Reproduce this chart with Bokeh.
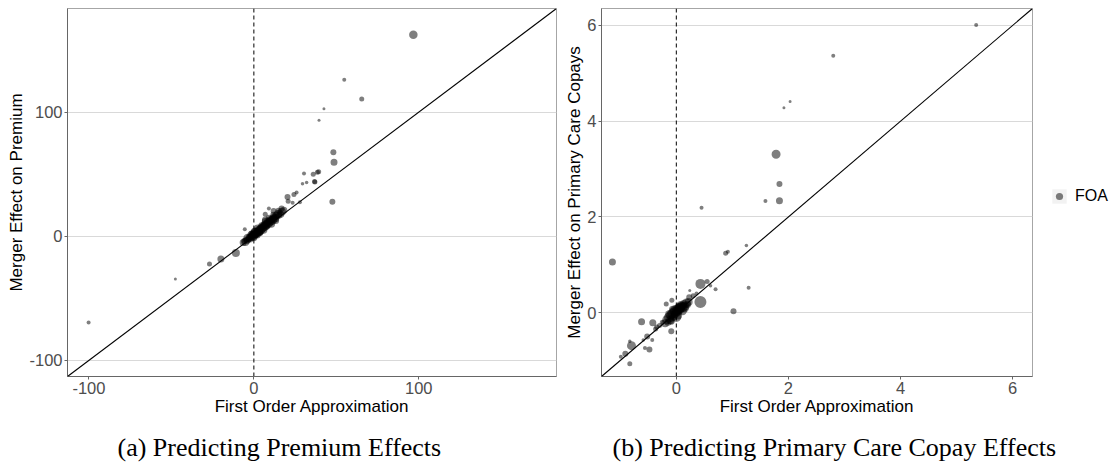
from bokeh.plotting import figure
from bokeh.models import (Range1d, FixedTicker, Span, Slope, Legend, LegendItem, ColumnDataSource,
                          Title)
from bokeh.layouts import row
from bokeh.embed import file_html
from bokeh.resources import INLINE

# ---------------- data: panel (a) premium ----------------
prem_foa = [96.7, 54.8, 65.4, 42.5, 39.5, 48.2, 48.6, 47.6, 30.4, 36.0, 39.3, 36.8, 29.5, 32.0,
            24.3, 25.9, 20.4, 20.8, 27.9, 23.5, 6.9, 9.1, -100.2, -47.6, -26.9, -20.0, -10.9, -5.5,
            37.0, 38.5,
            -6.5, -5.8, -5.2, -4.6, -4.1, -3.7, -3.2, -2.8, -2.4, -2.0, -1.7, -1.3, -1.0, -0.6, -0.3,
            0.1, 0.4, 0.8, 1.1, 1.5, 1.9, 2.2, 2.6, 3.0, 3.3, 3.7, 4.1, 4.4, 4.8, 5.2, 5.6, 6.0, 6.3,
            6.7, 7.1, 7.5, 7.9, 8.3, 8.7, 9.1, 9.5, 9.9, 10.3, 10.8, 11.2, 11.7, 12.1, 12.6, 13.0,
            13.5, 14.0, 14.6, 15.1, 15.7, 16.3, 17.0, 0.5, 1.3, 2.4, 3.5, 4.6, 5.8, 6.9, 8.0, 9.3,
            10.5, 11.8, 13.2, 2.0, 4.0, 7.0, 12.0, -1.5, 0.0, 16.8, 18.2, 14.9]
prem_effect = [162.3, 126.0, 110.5, 102.7, 93.5, 67.7, 59.7, 27.7, 50.5, 50.0, 51.9, 44.1, 42.2, 43.3,
               33.6, 35.2, 31.7, 28.2, 27.4, 26.9, 17.7, 22.3, -69.4, -34.4, -22.3, -18.3, -13.4, 5.6,
               43.8, 51.5,
               -5.0, -3.9, -4.6, -2.8, -3.5, -1.6, -2.4, -0.9, -1.8, 0.2, -1.1, 0.9, -0.2, 1.6, 0.4,
               2.3, 0.9, 3.1, 1.8, 3.9, 2.6, 4.8, 3.4, 5.7, 4.1, 6.5, 5.0, 7.2, 5.9, 8.1, 6.8, 9.0, 7.6,
               9.8, 8.5, 10.7, 9.3, 11.6, 10.2, 12.4, 11.0, 13.3, 12.0, 14.2, 12.9, 15.1, 13.8, 16.0, 14.6,
               17.2, 15.8, 18.0, 16.9, 19.1, 17.8, 19.8, 4.2, 0.8, 6.3, 2.9, 8.9, 5.2, 11.8, 7.6, 14.6,
               10.1, 17.3, 12.7, 1.0, 3.2, 13.1, 20.4, 2.3, -1.2, 22.4, 21.0, 20.6]
prem_size = [8.5, 4, 5, 3, 3, 6, 7, 6, 4, 5, 5, 5, 3.5, 3.5,
             5, 4, 6, 5, 4, 4, 5, 4, 4, 3, 5, 7, 8, 4,
             5, 5,
             7, 6, 8, 6, 7, 9, 6, 7, 8, 6, 7, 9, 8, 7, 9,
             8, 7, 9, 8, 7, 8, 6, 9, 7, 8, 6, 9, 7, 8, 6, 8, 7, 9,
             7, 8, 6, 8, 7, 9, 6, 8, 7, 8, 6, 9, 7, 8, 6, 8,
             7, 6, 8, 7, 6, 7, 8, 7, 6, 8, 7, 6, 8, 7, 6, 7,
             8, 6, 7, 7, 6, 7, 6, 6, 7, 6, 7, 6]

# ---------------- data: panel (b) primary care copay ----------------
copay_foa = [5.35, 2.80, 2.03, 1.92, 1.78, 1.84, 1.84, 1.59, 0.45, -1.14, 1.25, 0.88, 0.92, 1.29, 1.02,
             0.43, 0.43, 0.55, 0.70, 0.61, 0.24, 0.23, -0.08, -0.18, -0.62, -0.42, -0.37, -0.09, -0.52,
             -0.59, -0.43, -0.80, -0.83, -0.56, -0.48, -0.91, -0.99, -0.83, -0.35, -0.30, -0.25, 0.30, 0.36,
             -0.20, -0.17, -0.15, -0.13, -0.11, -0.10, -0.08, -0.07, -0.05, -0.04, -0.03, -0.02, -0.01,
             0.00, 0.01, 0.02, 0.03, 0.04, 0.05, 0.06, 0.07, 0.08, 0.09, 0.10, 0.12, 0.14, 0.16, 0.18,
             0.20, 0.22, -0.12, -0.06, 0.00, 0.05, 0.11, 0.15, -0.09, 0.03, 0.08, 0.13]
copay_effect = [6.01, 5.37, 4.41, 4.28, 3.31, 2.69, 2.34, 2.33, 2.19, 1.06, 1.40, 1.24, 1.27, 0.52, 0.03,
                0.22, 0.60, 0.65, 0.49, 0.56, 0.46, 0.32, 0.26, 0.18, -0.19, -0.21, -0.34, -0.39, -0.50,
                -0.57, -0.57, -0.69, -0.60, -0.74, -0.77, -0.86, -0.92, -1.07, -0.30, -0.27, -0.20, 0.35, 0.40,
                -0.22, -0.15, -0.20, -0.10, -0.16, -0.05, -0.12, -0.02, -0.08, 0.02, -0.05, 0.05, -0.02,
                0.03, 0.00, 0.07, 0.02, 0.08, 0.04, 0.10, 0.06, 0.12, 0.08, 0.14, 0.11, 0.16, 0.13, 0.20,
                0.17, 0.22, -0.04, 0.06, -0.09, 0.12, 0.04, 0.09, -0.18, -0.06, 0.15, 0.19]
copay_size = [4, 4, 3, 3, 9, 6, 7, 4, 4, 7, 3.5, 5, 4, 4, 6,
              12, 10, 5, 4, 3.5, 3, 6, 5, 5, 7, 7, 5, 6, 6,
              3.5, 4, 9, 3.5, 4, 6, 6, 4, 5, 5, 5, 5, 5, 4,
              8, 9, 7, 10, 8, 9, 7, 10, 8, 9, 7, 10, 8,
              9, 7, 10, 8, 9, 7, 10, 8, 9, 7, 8, 9, 7, 8, 9,
              7, 8, 9, 8, 10, 7, 9, 8, 7, 8, 9, 7]

prem_ticks = [-100, 0, 100]
prem_tick_labels = {-100: "-100", 0: "0", 100: "100"}
copay_ticks = [0, 2, 4, 6]
copay_tick_labels = {0: "0", 2: "2", 4: "4", 6: "6"}
prem_lim = (-113.0, 183.5)
copay_lim = (-1.335, 6.355)
captions = ["(a) Predicting Premium Effects", "(b) Predicting Primary Care Copay Effects"]
legend_label = "FOA"

SANS = "Liberation Sans"
SERIF = "Liberation Serif"
FRAME_H = 368


def make_panel(src, lim, ticks, tick_labels, fw, bl, br, ylabel, caption, cap_offset):
    p = figure(frame_width=fw, frame_height=FRAME_H,
               x_range=Range1d(*lim), y_range=Range1d(*lim),
               output_backend="svg", toolbar_location=None,
               min_border_left=bl, min_border_right=br, min_border_top=8, min_border_bottom=0)
    p.background_fill_color = "white"
    p.border_fill_color = "white"
    p.outline_line_color = "#a6a6a6"
    p.outline_line_width = 1
    p.xgrid.visible = False
    p.ygrid.grid_line_color = "#d9d9d9"
    p.ygrid.grid_line_width = 1
    p.ygrid.ticker = FixedTicker(ticks=ticks)
    for ax in (p.xaxis[0], p.yaxis[0]):
        ax.ticker = FixedTicker(ticks=ticks)
        ax.major_label_overrides = tick_labels
        ax.axis_line_color = "#666666"
        ax.major_tick_line_color = "#666666"
        ax.major_tick_out = 3
        ax.major_tick_in = 0
        ax.minor_tick_line_color = None
        ax.major_label_text_font = SANS
        ax.major_label_text_font_size = "16.5px"
        ax.major_label_text_color = "#4d4d4d"
        ax.major_label_standoff = 2
        ax.axis_label_text_font = SANS
        ax.axis_label_text_font_size = "17px"
        ax.axis_label_text_font_style = "normal"
        ax.axis_label_text_color = "black"
    p.xaxis.axis_label = "First Order Approximation"
    p.xaxis.axis_label_standoff = 0
    p.yaxis.axis_label = ylabel
    p.yaxis.axis_label_standoff = 0

    r = p.scatter("x", "y", size="s", source=src, fill_color="black", fill_alpha=0.5,
                  line_color=None)
    p.add_layout(Span(location=0, dimension="height", line_color="black", line_width=1,
                      line_dash="4 3", level="underlay"))
    p.add_layout(Slope(gradient=1, y_intercept=0, line_color="black", line_width=1.1))

    t = Title(text=caption, align="left", text_font=SERIF, text_font_size="26px",
              text_font_style="normal", text_color="black", offset=cap_offset, standoff=15,
              padding=5)
    p.add_layout(t, "below")
    return p, r


prem_src = ColumnDataSource(dict(x=prem_foa, y=prem_effect, s=prem_size))
copay_src = ColumnDataSource(dict(x=copay_foa, y=copay_effect, s=copay_size))

p1, r1 = make_panel(prem_src, prem_lim, prem_ticks, prem_tick_labels, 489, 67, 6,
                    "Merger Effect on Premium", captions[0], 45)
p2, r2 = make_panel(copay_src, copay_lim, copay_ticks, copay_tick_labels, 431, 39, 81,
                    "Merger Effect on Primary Care Copays", captions[1], 6)

# legend key background (zero-size rects, only visible as the legend key box)
key_bg = p2.rect("x", "y", width=0, height=0, source=copay_src, fill_color="#f2f2f2",
                 line_color=None, level="underlay")
legend = Legend(items=[LegendItem(label=legend_label, renderers=[key_bg, r2], index=0)],
                location=(18, 171), margin=0, padding=0, glyph_width=18, glyph_height=18,
                label_standoff=7, label_text_font=SANS, label_text_font_size="16px",
                label_text_color="black", border_line_color=None, background_fill_alpha=0)
p2.add_layout(legend, "right")

layout = row(p1, p2, spacing=0)
open("out.html", "w").write(file_html(layout, INLINE))
